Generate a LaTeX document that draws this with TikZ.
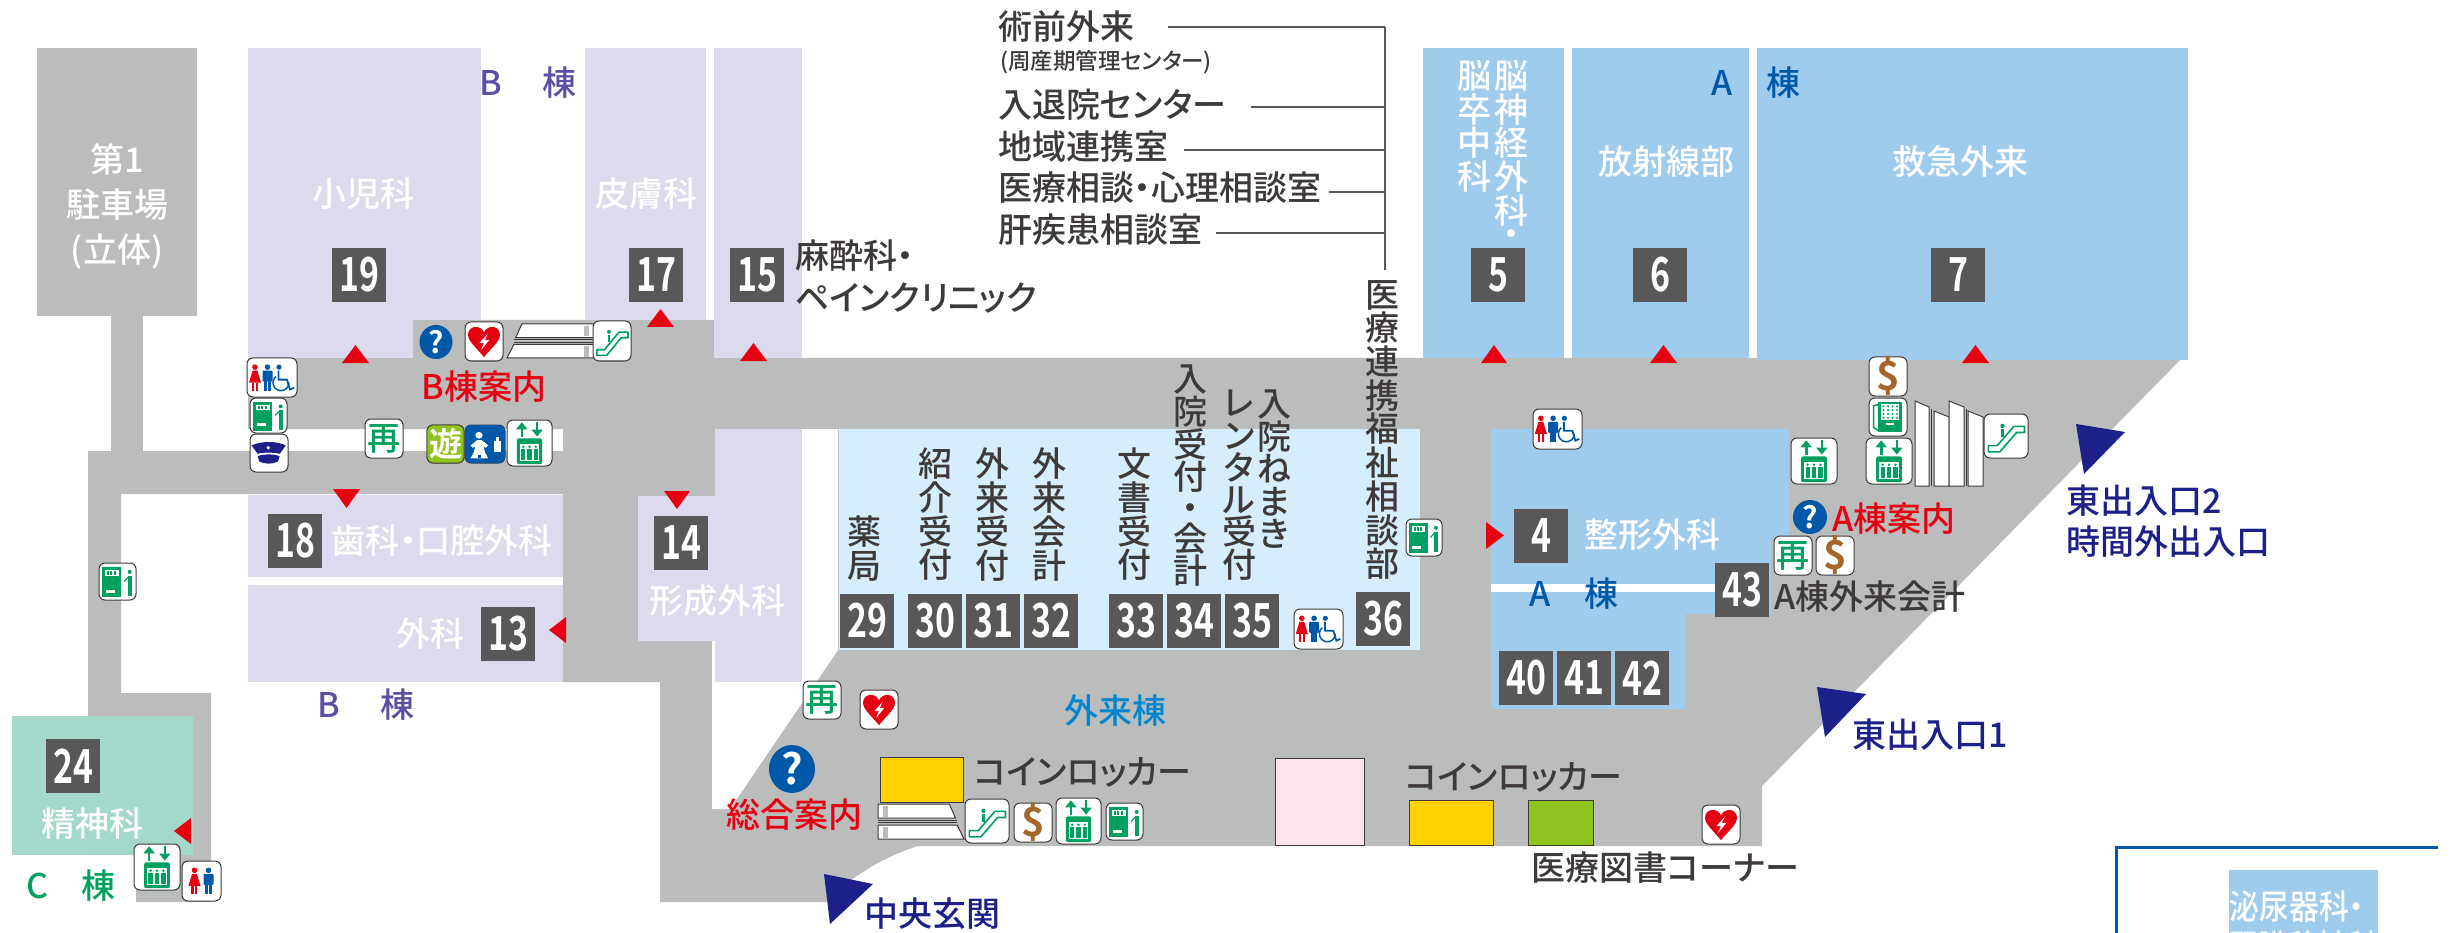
\documentclass[tikz,border=0pt]{standalone}
\usepackage{fontspec}
\usepackage{graphicx}
\setmainfont{Noto Sans CJK JP Medium}[RawFeature={+palt},BoldFont={Noto Sans CJK JP Bold}]
\usetikzlibrary{arrows.meta}
\definecolor{corr}{HTML}{BBBDBC}
\definecolor{lav}{HTML}{DCDAEC}
\definecolor{sky}{HTML}{9FCBEC}
\definecolor{pale}{HTML}{D6EEFB}
\definecolor{mint}{HTML}{A3D8CB}
\definecolor{numbg}{HTML}{595757}
\definecolor{ink}{HTML}{3E3A39}
\definecolor{redc}{HTML}{E60012}
\definecolor{navyc}{HTML}{1D2088}
\definecolor{bluec}{HTML}{0058A8}
\definecolor{greenc}{HTML}{00A15F}
\definecolor{brownc}{HTML}{A3672B}
\definecolor{lime}{HTML}{8FC31F}
\definecolor{purp}{HTML}{5A4FA2}
\definecolor{goldc}{HTML}{FFD100}
\definecolor{pinkc}{HTML}{FBE6F0}
\definecolor{cyanc}{HTML}{0086D1}
\newcounter{icn}
\newcommand{\fs}[1]{\fontsize{#1}{#1}\selectfont}
\tikzset{
  x=1pt,y=-1pt,
  numbox/.style={fill=numbg,text=white,minimum width=54pt,minimum height=54pt,inner sep=0pt,font=\bfseries\fs{47}},
  whitetxt/.style={text=white,inner sep=0pt,font=\fs{34}},
  inktxt/.style={text=ink,inner sep=0pt,font=\fs{34}},
  redtxt/.style={text=redc,inner sep=0pt,font=\fs{34}},
  navytxt/.style={text=navyc,inner sep=0pt,font=\fs{34}},
  stacked/.style={inner sep=0pt,anchor=north,align=center,font=\fontsize{34}{33.7}\selectfont},
  iconframe/.style={draw=ink,line width=1pt,fill=white,rounded corners=6pt},
  connector/.style={draw=numbg,line width=1.6pt},
  locker/.style={draw=ink,line width=1pt},
  stairline/.style={draw=ink,line width=1pt,fill=white},
  redtri/.style={fill=redc},
  navytri/.style={fill=navyc}
}
\newcommand{\NB}[4]{\node[numbox] (#1) at ({#2+27},{#3+27}) {\scalebox{.72}[1]{#4}};}
\newcommand{\IconBox}[5]{\stepcounter{icn}\begin{scope}[shift={(#1,#2)},x=#3pt,y=-#4pt]
  \path[iconframe] (0,0) rectangle (1,1); #5 \end{scope}}
\newcommand{\aedsym}{\fill[redc] (.5,.9) .. controls (.32,.68) and (.08,.5) .. (.08,.33) .. controls (.08,.08) and (.42,.06) .. (.5,.27) .. controls (.58,.06) and (.92,.08) .. (.92,.33) .. controls (.92,.5) and (.68,.68) .. (.5,.9) -- cycle;
  \fill[white] (.6,.3) -- (.38,.54) -- (.5,.54) -- (.42,.72) -- (.64,.46) -- (.52,.46) -- cycle;}
\newcommand{\resym}{\node[name=it\theicn,text=greenc,inner sep=0pt,font=\fs{33}] at (.5,.5) {再};}
\newcommand{\dollarsym}{\node[name=it\theicn,text=brownc,inner sep=0pt,font=\bfseries\fs{40}] at (.5,.5) {\$};}
\newcommand{\liftsym}{\draw[greenc,line width=2.6pt,-{Triangle[width=11pt,length=7pt]}] (.33,.36) -- (.33,.05);
  \draw[greenc,line width=2.6pt,-{Triangle[width=11pt,length=7pt]}] (.67,.05) -- (.67,.36);
  \fill[greenc,rounded corners=2pt] (.22,.4) rectangle (.78,.96);
  \fill[white] (.28,.52) rectangle (.72,.9);
  \foreach \px in {.36,.5,.64}{\fill[greenc] (\px-.045,.63) rectangle (\px+.045,.86); \fill[greenc] (\px,.58) circle (.03);}}
\newcommand{\escsym}{\draw[greenc,line width=1.6pt,fill=white,line join=round] (.1,.72) -- (.3,.72) -- (.68,.28) -- (.92,.28) -- (.92,.42) -- (.74,.42) -- (.36,.86) -- (.1,.86) -- cycle;
  \fill[greenc] (.42,.27) circle (.05);
  \draw[greenc,line width=2.5pt] (.42,.34) -- (.42,.52);}
\newcommand{\vendsym}{\fill[greenc] (.09,.11) rectangle (.6,.93);
  \fill[white] (.16,.2) rectangle (.54,.34);
  \foreach \px in {.22,.31,.4}{\fill[greenc] (\px,.22) rectangle (\px+.05,.32);}
  \fill[white] (.18,.72) rectangle (.42,.8);
  \fill[greenc] (.83,.24) circle (.055);
  \fill[greenc] (.78,.34) rectangle (.88,.9);
  \draw[greenc,line width=1.2pt] (.79,.38) -- (.68,.5);}
\newcommand{\capsym}{\fill[navyc] (.04,.3) .. controls (.3,.18) and (.7,.18) .. (.94,.3) .. controls (.86,.42) and (.8,.5) .. (.78,.52) .. controls (.6,.48) and (.35,.48) .. (.2,.52) .. controls (.15,.45) and (.1,.38) .. (.04,.3) -- cycle;
  \fill[white] (.48,.36) circle (.05);
  \fill[navyc] (.2,.58) .. controls (.4,.52) and (.6,.52) .. (.78,.58) -- (.74,.72) .. controls (.6,.8) and (.38,.8) .. (.24,.72) -- cycle;}
\newcommand{\Pwoman}[3]{\begin{scope}[shift={(#1,#2)},x=1pt,y=-1pt]\fill[#3] (0,2.5) circle (2.8);
  \fill[#3] (-2.4,6) -- (2.4,6) -- (6,18) -- (-6,18) -- cycle;
  \fill[#3] (-3,18) rectangle (-.8,26.5); \fill[#3] (.8,18) rectangle (3,26.5);\end{scope}}
\newcommand{\Pman}[3]{\begin{scope}[shift={(#1,#2)},x=1pt,y=-1pt]\fill[#3] (0,2.5) circle (2.8);
  \fill[#3,rounded corners=1pt] (-5,6) rectangle (5,17);
  \fill[#3] (-3.2,16) rectangle (-.3,26.5); \fill[#3] (.3,16) rectangle (3.2,26.5);\end{scope}}
\newcommand{\Pchair}[3]{\begin{scope}[shift={(#1,#2)},x=1pt,y=-1pt]\fill[#3] (0,2.5) circle (2.6);
  \draw[#3,line width=1.5pt] (2,18) ++(230:8) arc[start angle=230,end angle=0,radius=8];
  \draw[#3,line width=1.8pt,line join=round] (-.5,6) -- (-.5,15) -- (8,15) -- (11,25) -- (15,23);\end{scope}}
\newcommand{\toiletw}{\Pwoman{.16}{.17}{redc}\Pman{.41}{.17}{bluec}\Pchair{.64}{.17}{bluec}}
\newcommand{\toilett}{\Pwoman{.32}{.17}{redc}\Pman{.68}{.17}{bluec}}
\newcommand{\babysym}{\fill[bluec,rounded corners=6pt] (0,0) rectangle (1,1);
  \fill[white] (.35,.27) circle (.09);
  \fill[white] (.14,.54) -- (.3,.4) -- (.42,.4) -- (.58,.54) -- (.52,.6) -- (.46,.56) -- (.5,.72) -- (.58,.88) -- (.14,.88) -- (.22,.72) -- (.26,.56) -- (.2,.6) -- cycle;
  \fill[bluec] (.33,.78) rectangle (.39,.88);
  \fill[white] (.72,.42) rectangle (.89,.72);
  \fill[white] (.77,.31) rectangle (.84,.42);}
\newcommand{\playsym}{\fill[lime,draw=ink,line width=.8pt,rounded corners=6pt] (0,0) rectangle (1,1);
  \node[name=it\theicn,text=white,inner sep=0pt,font=\bfseries\fs{33}] at (.5,.5) {遊};}
\newcommand{\phonesym}{\fill[greenc] (.24,.1) rectangle (.88,.9);
  \fill[white] (.32,.16) rectangle (.8,.58);
  \foreach \py in {.22,.32,.42,.52}{\foreach \px in {.38,.5,.62,.74}{\fill[greenc] (\px,\py) circle (.03);}}
  \fill[white] (.44,.66) rectangle (.66,.72);
  \draw[greenc,line width=1.5pt] (.24,.18) -- (.12,.2) -- (.12,.78) -- (.24,.85);}
\newcommand{\stairflight}{\path[stairline] (.17,0) -- (1,0) -- (1,.4) -- (.1,.4) -- cycle;
  \draw[ink,line width=1pt] (.08,.47) -- (1,.47); \draw[ink,line width=1pt] (.08,.53) -- (1,.53);
  \path[stairline] (.08,.6) -- (1,.6) -- (1,1) -- (0,1) -- cycle;
  \fill[corr] (.88,.05) rectangle (.94,.36); \fill[corr] (.88,.65) rectangle (.94,.96);}
\begin{document}
\begin{tikzpicture}
\useasboundingbox (0,0) rectangle (2461,933);
\clip (0,0) rectangle (2461,933);
\fill[white] (0,0) rectangle (2461,933);
% corridors
\fill[corr] (248,358) -- (413,358) -- (413,320) -- (714,320) -- (714,358) -- (2182,358) -- (1762,786) -- (1762,846) -- (918,846) .. controls (880,858) and (850,878) .. (826,902) -- (660,902) -- (660,682) -- (563,682) -- (563,429) -- (248,429) -- cycle;
\fill[white] (712,809) -- (730,809) -- (838,650) -- (838,429) -- (712,429) -- cycle;
\fill[corr] (88,451) -- (563,451) -- (563,494) -- (121,494) -- (121,693) -- (211,693) -- (211,902) -- (136,902) -- (136,855) -- (88,855) -- cycle;
\fill[corr] (111,316) rectangle (143,451);
\fill[corr] (37,48) rectangle (197,316);
% B rooms
\fill[lav] (248,48) rectangle (481,358);
\fill[lav] (585,48) rectangle (706,320);
\fill[lav] (714,48) rectangle (802,358);
\fill[lav] (715,429) rectangle (802,682);
\fill[lav] (638,496) rectangle (802,641);
\fill[lav] (248,495) rectangle (563,577);
\fill[lav] (248,585) rectangle (563,682);
\fill[corr] (413,320) rectangle (714,358);
\fill[corr] (563,429) rectangle (638,641);
\fill[corr] (563,429) rectangle (715,496);
\fill[corr] (563,641) rectangle (712,682);
\fill[corr] (660,682) rectangle (712,809);
\fill[mint] (12,716) rectangle (193,855);
% A rooms
\fill[sky] (1423,48) rectangle (1564,358);
\fill[sky] (1572,48) rectangle (1749,358);
\fill[sky] (1757,48) rectangle (2188,360);
\fill[pale] (839,429) rectangle (1420,650);
\fill[sky] (1491,429) -- (1789,429) -- (1789,537) -- (1771,537) -- (1771,614) -- (1685,614) -- (1685,709) -- (1491,709) -- cycle;
\fill[white] (1491,584) rectangle (1715,592);
% rooms of colour
\fill[goldc,locker] (880,757) rectangle (963,802);
\fill[pinkc,locker] (1275,758) rectangle (1364,845);
\fill[goldc,locker] (1409,800) rectangle (1493,845);
\fill[lime,locker] (1528,800) rectangle (1593,845);
% number boxes
\NB{n19}{332}{248}{19}\NB{n17}{629}{248}{17}\NB{n15}{730}{248}{15}
\NB{n18}{268}{514}{18}\NB{n14}{654}{516}{14}\NB{n13}{481}{607}{13}\NB{n24}{46}{739}{24}
\NB{n5}{1471}{248}{5}\NB{n6}{1633}{248}{6}\NB{n7}{1931}{248}{7}\NB{n4}{1514}{509}{4}
\NB{n29}{840}{594}{29}\NB{n30}{908}{594}{30}\NB{n31}{966}{594}{31}\NB{n32}{1024}{594}{32}
\NB{n33}{1109}{594}{33}\NB{n34}{1167}{594}{34}\NB{n35}{1225}{594}{35}\NB{n36}{1356}{592}{36}
\NB{n40}{1499}{651}{40}\NB{n41}{1557}{651}{41}\NB{n42}{1615}{651}{42}\NB{n43}{1715}{563}{43}
% red triangles
\fill[redtri] (355.5,345) -- (369,363) -- (342,363) -- cycle;
\fill[redtri] (660.5,309) -- (674,327) -- (647,327) -- cycle;
\fill[redtri] (753.5,343) -- (767,361) -- (740,361) -- cycle;
\fill[redtri] (1494,345) -- (1507,363) -- (1481,363) -- cycle;
\fill[redtri] (1663.5,345) -- (1677,363) -- (1650,363) -- cycle;
\fill[redtri] (1975.5,345) -- (1989,363) -- (1962,363) -- cycle;
\fill[redtri] (346.5,508) -- (333,489) -- (360,489) -- cycle;
\fill[redtri] (677,509) -- (664,491) -- (690,491) -- cycle;
\fill[redtri] (549,630) -- (566,617) -- (566,643) -- cycle;
\fill[redtri] (174,831) -- (191,818) -- (191,844) -- cycle;
\fill[redtri] (1504,535.5) -- (1486,522) -- (1486,549) -- cycle;
% navy triangles
\fill[navytri] (824,874) -- (873,884) -- (830,924) -- cycle;
\fill[navytri] (1817,687) -- (1866,694) -- (1825,737) -- cycle;
\fill[navytri] (2076,424) -- (2125,432) -- (2084,474) -- cycle;
% white room labels
\node[whitetxt,align=center,font=\fontsize{34}{45}\selectfont] (parking) at (117,206) {第1\\駐車場\\(立体)};
\node[whitetxt] (ped) at (363,194) {小児科};
\node[whitetxt] (derm) at (646,194) {皮膚科};
\node[whitetxt] (dent) at (442,541) {歯科・口腔外科};
\node[whitetxt] (surg) at (430,634) {外科};
\node[whitetxt] (plast) at (717,601) {形成外科};
\node[whitetxt] (psych) at (92,824) {精神科};
\node[whitetxt] (rad) at (1666,162) {放射線部};
\node[whitetxt] (er) at (1960,162) {救急外来};
\node[whitetxt] (orth) at (1652,535) {整形外科};
\node[whitetxt,stacked,text=white] (neuro) at (1511,60) {脳\\神\\経\\外\\科\\[-10pt]・};
\node[whitetxt,stacked,text=white] (stroke) at (1474,60) {脳\\卒\\中\\科};
% building labels
\node[text=purp,inner sep=0pt,font=\fs{34}] (bldb1) at (528,83) {B\hspace{40pt}棟};
\node[text=purp,inner sep=0pt,font=\fs{34}] (bldb2) at (366,705) {B\hspace{40pt}棟};
\node[text=greenc,inner sep=0pt,font=\fs{34}] (bldc) at (71,886) {C\hspace{34pt}棟};
\node[text=bluec,inner sep=0pt,font=\fs{34}] (blda1) at (1756,83) {A\hspace{33pt}棟};
\node[text=bluec,inner sep=0pt,font=\fs{34}] (blda2) at (1574,594) {A\hspace{33pt}棟};
\node[text=cyanc,inner sep=0pt,font=\fs{34}] (gairai) at (1115,711) {外来棟};
% dark labels
\node[inktxt,anchor=west] (masuia) at (795,256) {麻酔科・};
\node[inktxt,anchor=west] (masuib) at (795,298) {ペインクリニック};
\node[inktxt,anchor=west] (l1) at (998,27) {術前外来};
\node[inktxt,anchor=west,font=\fs{22.5}] (l1b) at (1000,62) {(周産期管理センター)};
\node[inktxt,anchor=west] (l2) at (998,105) {入退院センター};
\node[inktxt,anchor=west] (l3) at (998,147) {地域連携室};
\node[inktxt,anchor=west] (l4) at (998,188) {医療相談・心理相談室};
\node[inktxt,anchor=west] (l5) at (998,230) {肝疾患相談室};
\coordinate (bustop) at (1385,27);
\coordinate (busbot) at (1385,270);
\coordinate (s2) at (1251,107);
\coordinate (s3) at (1184,150);
\coordinate (s4) at (1329,192);
\coordinate (s5) at (1216,233);
\coordinate (s1) at (1168,27);
\draw[connector] (bustop) -- (busbot);
\draw[connector] (s1) -- (bustop);
\draw[connector] (s2) -- (s2 -| bustop);
\draw[connector] (s3) -- (s3 -| bustop);
\draw[connector] (s4) -- (s4 -| bustop);
\draw[connector] (s5) -- (s5 -| bustop);
\node[inktxt,stacked] (v29) at (864,516) {薬\\局};
\node[inktxt,stacked] (v30) at (935,448) {紹\\介\\受\\付};
\node[inktxt,stacked] (v31) at (992,448) {外\\来\\受\\付};
\node[inktxt,stacked] (v32) at (1049,448) {外\\来\\会\\計};
\node[inktxt,stacked] (v33) at (1134,448) {文\\書\\受\\付};
\node[inktxt,stacked,font=\fontsize{34}{31}\selectfont] (v34) at (1190,365) {入\\院\\受\\付\\・\\会\\計};
\node[inktxt,stacked,font=\fontsize{34}{32.3}\selectfont] (v35) at (1239,390) {レ\\ン\\タ\\ル\\受\\付};
\node[inktxt,stacked,font=\fontsize{34}{32.4}\selectfont] (v35b) at (1274,390) {入\\院\\ね\\ま\\き};
\node[inktxt,stacked] (v36) at (1382,280) {医\\療\\連\\携\\福\\祉\\相\\談\\部};
\node[inktxt] (cl1) at (1083,772) {コインロッカー};
\node[inktxt] (cl2) at (1514,777) {コインロッカー};
\node[inktxt] (lib) at (1665,868) {医療図書コーナー};
\node[inktxt] (acct) at (1870,597) {A棟外来会計};
% red labels
\node[redtxt] (binfo) at (484,387) {B棟案内};
\node[redtxt] (ginfo) at (794,815) {総合案内};
\node[redtxt] (ainfo) at (1894,519) {A棟案内};
% navy labels
\node[navytxt] (main) at (932,914) {中央玄関};
\node[navytxt] (east1) at (1930,735) {東出入口1};
\node[navytxt,anchor=west] (east2a) at (2066,501) {東出入口2};
\node[navytxt,anchor=west] (east2b) at (2066,542) {時間外出入口};
% question marks
\fill[bluec] (436,342) ellipse [x radius=16.5,y radius=17];
\node[text=white,inner sep=0pt,font=\bfseries\fs{30}] (q1) at (436,342) {?};
\fill[bluec] (792,769) ellipse [x radius=23,y radius=24];
\node[text=white,inner sep=0pt,font=\bfseries\fs{42}] (q2) at (792,769) {?};
\fill[bluec] (1810,517) ellipse [x radius=17,y radius=17];
\node[text=white,inner sep=0pt,font=\bfseries\fs{30}] (q3) at (1810,517) {?};
% stairs
\begin{scope}[shift={(507,324)},x=87pt,y=-34pt]\stairflight\end{scope}
\begin{scope}[shift={(964,804)},x=-86pt,y=-35pt]\stairflight\end{scope}
\path[stairline] (1915,401) -- (1929,407) -- (1929,486) -- (1915,486) -- cycle;
\path[stairline] (1934,411) -- (1949,417) -- (1949,486) -- (1934,486) -- cycle;
\path[stairline] (1949,401) -- (1964,407) -- (1964,486) -- (1949,486) -- cycle;
\path[stairline] (1968,411) -- (1983,417) -- (1983,486) -- (1968,486) -- cycle;
\draw[ink,line width=.8pt] (1931.5,409) -- (1931.5,486);
\draw[ink,line width=.8pt] (1966,409) -- (1966,486);
% icons
\IconBox{465}{322}{38}{39}{\aedsym}
\IconBox{593}{321}{38}{40}{\escsym}
\IconBox{247}{358}{50}{39}{\toiletw}
\IconBox{250}{398}{37}{35}{\vendsym}
\IconBox{250}{434}{38}{38}{\capsym}
\IconBox{365}{419}{38}{39}{\resym}
\IconBox{427}{425}{37}{38}{\playsym}
\IconBox{465}{425}{40}{38}{\babysym}
\IconBox{507}{420}{45}{46}{\liftsym}
\IconBox{99}{563}{37}{37}{\vendsym}
\IconBox{134}{844}{46}{46}{\liftsym}
\IconBox{182}{861}{39}{40}{\toilett}
\IconBox{803}{681}{38}{38}{\resym}
\IconBox{860}{690}{38}{39}{\aedsym}
\IconBox{965}{799}{44}{44}{\escsym}
\IconBox{1014}{803}{38}{39}{\dollarsym}
\IconBox{1056}{798}{45}{46}{\liftsym}
\IconBox{1106}{803}{37}{37}{\vendsym}
\IconBox{1533}{409}{49}{40}{\toiletw}
\IconBox{1406}{519}{36}{37}{\vendsym}
\IconBox{1294}{609}{49}{40}{\toiletw}
\IconBox{1869}{357}{38}{39}{\dollarsym}
\IconBox{1869}{398}{38}{38}{\phonesym}
\IconBox{1866}{438}{46}{46}{\liftsym}
\IconBox{1791}{438}{46}{46}{\liftsym}
\IconBox{1984}{414}{44}{44}{\escsym}
\IconBox{1774}{536}{38}{39}{\resym}
\IconBox{1816}{536}{38}{39}{\dollarsym}
\IconBox{1702}{805}{38}{39}{\aedsym}
% lower right legend fragment
\draw[bluec,line width=3pt] (2116,933) -- (2116,847) -- (2438,847);
\fill[sky] (2229,870) rectangle (2378,940);
\node[whitetxt] (uro) at (2297,907) {\scalebox{.88}[1]{泌尿器科・}};
\node[whitetxt] (uro2) at (2303,947) {\scalebox{.88}[1]{腎臓移植科}};
\end{tikzpicture}
\end{document}
